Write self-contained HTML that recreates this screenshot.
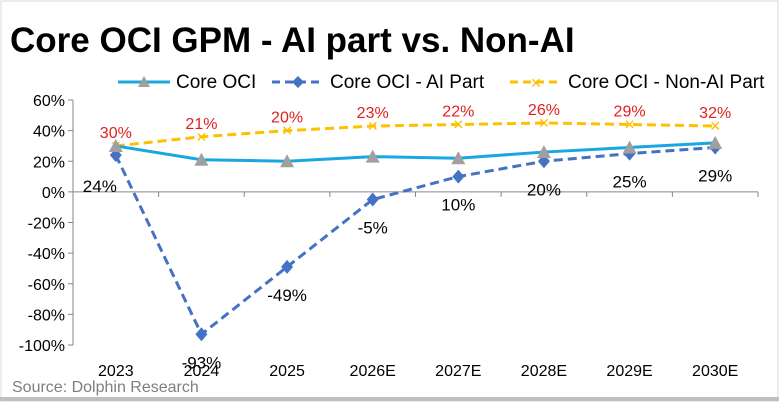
<!DOCTYPE html>
<html><head><meta charset="utf-8"><style>
body{margin:0;background:#fff;font-family:"Liberation Sans",sans-serif}
#wrap{position:relative;width:779px;height:403px;overflow:hidden}
</style></head><body>
<div id="wrap">
<svg id="chart" width="779" height="403">
<rect x="1" y="1" width="777" height="400" fill="#fff" stroke="#d9d9d9"/>
<line x1="0" y1="399" x2="779" y2="399" stroke="#bfbfbf" stroke-width="4"/>
<text x="10" y="52" font-size="35" font-weight="bold" fill="#000">Core OCI GPM - AI part vs. Non-AI</text>
<text x="12" y="392" font-size="16" fill="#7f7f7f">Source: Dolphin Research</text>
<g id="legend">
<g><line x1="118" y1="82" x2="170" y2="82" stroke="#1aa7e0" stroke-width="3"/><polygon points="144,76 150,87 138,87" fill="#a0a0a0"/><text x="176" y="88" font-size="19">Core OCI</text></g>
<g><line x1="272" y1="82" x2="324" y2="82" stroke="#4472c4" stroke-width="3" stroke-dasharray="8,5"/><polygon points="298,76 304,82 298,88 292,82" fill="#4472c4"/><text x="330" y="88" font-size="19">Core OCI - AI Part</text></g>
<g><line x1="510" y1="82" x2="562" y2="82" stroke="#ffc000" stroke-width="3" stroke-dasharray="8,5"/><text x="536" y="88" font-size="14" fill="#ffc000" text-anchor="middle">✕</text><text x="568" y="88" font-size="19">Core OCI - Non-AI Part</text></g>
</g>
<g id="axes"></g>
<g id="marks"></g>
</svg>
</div>
<script>
const categories=["2023","2024","2025","2026E","2027E","2028E","2029E","2030E"];
const coreOCI=[30,21,20,23,22,26,29,32];
const aiPart=[24,-93,-49,-5,10,20,25,29];
const nonAiPart=[30,36,40,43,44,45,44,43];
const yTicks=[60,40,20,0,-20,-40,-60,-80,-100];
const NS="http://www.w3.org/2000/svg";
const axesG=document.getElementById('axes'),marksG=document.getElementById('marks');
const pLeft=73,pRight=758,pTop=100,pBottom=345,yMax=60,yMin=-100;
const cw=(pRight-pLeft)/categories.length;
function xs(i){return pLeft+cw*(i+0.5);}
function ys(v){return pTop+(yMax-v)/(yMax-yMin)*(pBottom-pTop);}
function mk(tag,attrs,parent){const e=document.createElementNS(NS,tag);for(const k in attrs)e.setAttribute(k,attrs[k]);parent.appendChild(e);return e;}
mk('line',{x1:pLeft,y1:pTop,x2:pLeft,y2:pBottom,stroke:'#868686'},axesG);
yTicks.forEach(t=>{
 const l=mk('line',{x1:pLeft-5,y1:ys(t),x2:pLeft,y2:ys(t),stroke:'#868686'},axesG);
 
 
 const tx=mk('text',{x:pLeft-8,y:ys(t)+6,'font-size':16,'text-anchor':'end'},axesG);
 tx.textContent=t+'%';
 
 
});
mk('line',{x1:pLeft,y1:ys(0),x2:pRight,y2:ys(0),stroke:'#868686'},axesG);
categories.forEach((c,i)=>{
 mk('line',{x1:pLeft+cw*(i+1),y1:ys(0),x2:pLeft+cw*(i+1),y2:ys(0)+5,stroke:'#868686'},axesG);
 const tx=mk('text',{x:xs(i),y:376,'font-size':16,'text-anchor':'middle'},axesG);
 tx.textContent=c;
 
 
});
function pts(a){return a.map((v,i)=>xs(i)+','+ys(v)).join(' ');}
let p=mk('polyline',{points:pts(nonAiPart),fill:'none',stroke:'#ffc000','stroke-width':3,'stroke-dasharray':'9,5'},marksG);


nonAiPart.forEach((v,i)=>{
 const t=mk('text',{x:xs(i),y:ys(v)+5,'font-size':14,'text-anchor':'middle',fill:'#ffc000'},marksG);
 t.textContent='✕';
 
 
});
p=mk('polyline',{points:pts(aiPart),fill:'none',stroke:'#4472c4','stroke-width':3,'stroke-dasharray':'9,5'},marksG);


p=mk('polyline',{points:pts(coreOCI),fill:'none',stroke:'#1aa7e0','stroke-width':3},marksG);


aiPart.forEach((v,i)=>{
 const cx=xs(i),cy=ys(v);
 const d=mk('polygon',{points:`${cx},${cy-7} ${cx+6},${cy} ${cx},${cy+7} ${cx-6},${cy}`,fill:'#4472c4'},marksG);
 
 
 const lx=i===0?cx-16:cx;
 const ly=i===0?ys(0):cy+34;
 const t=mk('text',{x:lx,y:ly,'font-size':17,'text-anchor':'middle',fill:'#000'},marksG);
 t.textContent=v+'%';
 
 
});
coreOCI.forEach((v,i)=>{
 const cx=xs(i),cy=ys(v);
 const tr=mk('polygon',{points:`${cx},${cy-7} ${cx+7},${cy+6} ${cx-7},${cy+6}`,fill:'#a0a0a0'},marksG);
 
 
 const t=mk('text',{x:cx,y:ys(nonAiPart[i])-8,'font-size':16,'text-anchor':'middle',fill:'#e02020'},marksG);
 t.textContent=v+'%';
 
 
});
</script>
</body></html>
